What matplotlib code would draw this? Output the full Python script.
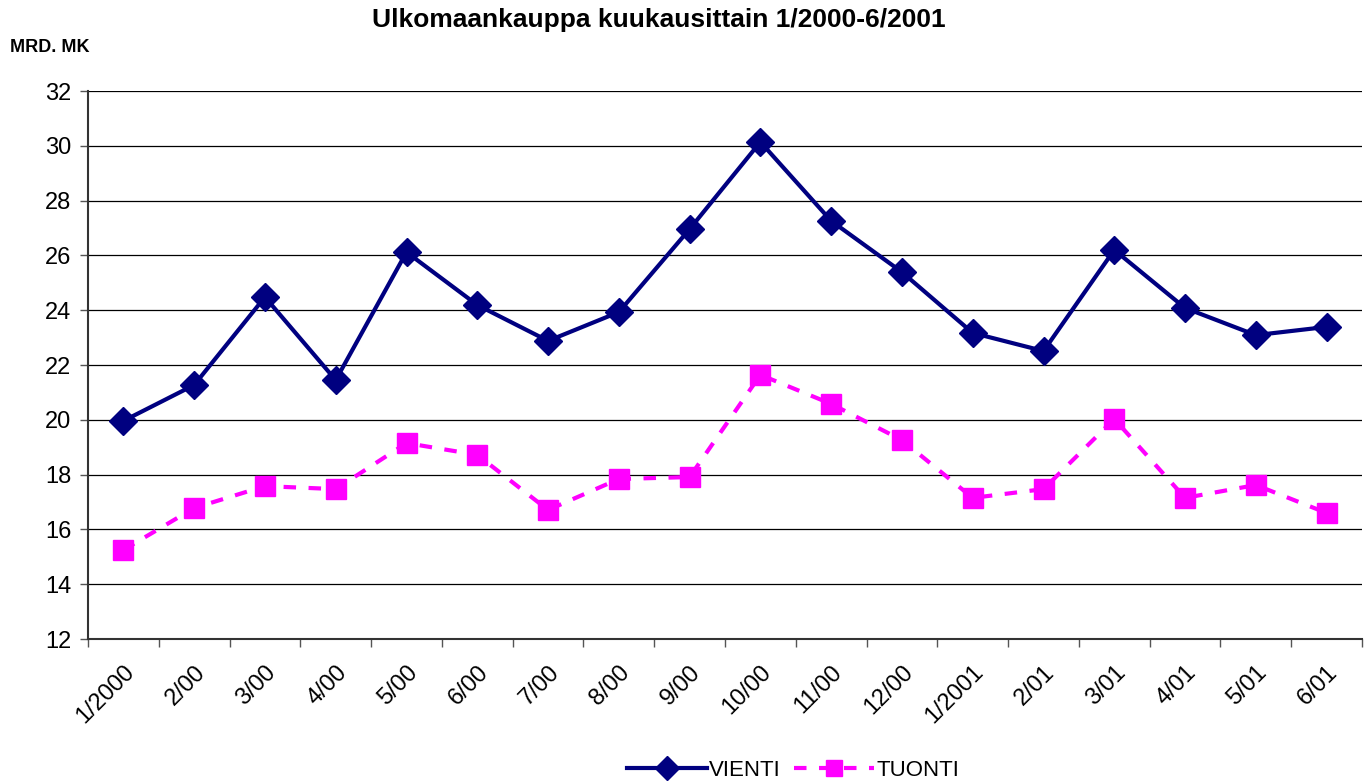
import matplotlib
matplotlib.use("Agg")
import matplotlib.pyplot as plt
import numpy as np

plt.rcParams['font.family'] = ['Liberation Sans', 'DejaVu Sans']

months = ["1/2000", "2/00", "3/00", "4/00", "5/00", "6/00", "7/00", "8/00", "9/00",
          "10/00", "11/00", "12/00", "1/2001", "2/01", "3/01", "4/01", "5/01", "6/01"]
vienti = [19.96, 21.27, 24.48, 21.45, 26.12, 24.19, 22.88, 23.93, 26.96,
          30.14, 27.26, 25.39, 23.17, 22.51, 26.20, 24.08, 23.09, 23.39]
tuonti = [15.25, 16.78, 17.58, 17.47, 19.15, 18.72, 16.71, 17.84, 17.91,
          21.64, 20.58, 19.26, 17.15, 17.47, 20.03, 17.15, 17.62, 16.60]

fig = plt.figure(figsize=(13.66, 7.83), dpi=100)
ax = fig.add_axes([88/1366, 1-639/783, (1362-88)/1366, (639-91)/783])

x = np.arange(len(months))
ax.plot(x, vienti, color='#000080', lw=3, marker='D', markersize=14,
        label='VIENTI', zorder=3)
ax.plot(x, tuonti, color='#FF00FF', lw=3, marker='s', markersize=14,
        dashes=(3, 3), label='TUONTI', zorder=3)

ax.set_xlim(-0.5, len(months) - 0.5)
ax.set_ylim(12, 32)
ax.set_yticks(np.arange(12, 33, 2))
ax.yaxis.grid(True, color='black', lw=0.9)
ax.set_axisbelow(True)

ax.set_xticks(x)
ax.set_xticklabels(months, rotation=45, ha='right', rotation_mode='anchor', fontsize=17)
ax.set_xticks(np.arange(-0.5, len(months), 1), minor=True)
ax.tick_params(axis='x', which='major', length=0, pad=16)
ax.tick_params(axis='x', which='minor', length=6, width=1, color='#555555')
ax.tick_params(axis='y', labelsize=17, length=6, width=1, color='#555555', pad=6)

for s in ['top', 'right']:
    ax.spines[s].set_visible(False)
ax.spines['left'].set_color('#333333')
ax.spines['left'].set_linewidth(1.5)
ax.spines['bottom'].set_color('#333333')
ax.spines['bottom'].set_linewidth(1.5)

fig.text(659/1366, 1-20/783, 'Ulkomaankauppa kuukausittain 1/2000-6/2001',
         ha='center', va='center', fontsize=19, fontweight='bold')
fig.text(10/1366, 1-47/783, 'MRD. MK', ha='left', va='center',
         fontsize=13, fontweight='bold')

fig.legend(loc='center', bbox_to_anchor=(793/1366, 1-770/783), ncol=2, frameon=False,
           fontsize=16, handlelength=3.6, columnspacing=0.6, handletextpad=0.1,
           borderaxespad=0, markerscale=0.85)

fig.savefig('out.png', dpi=100)
